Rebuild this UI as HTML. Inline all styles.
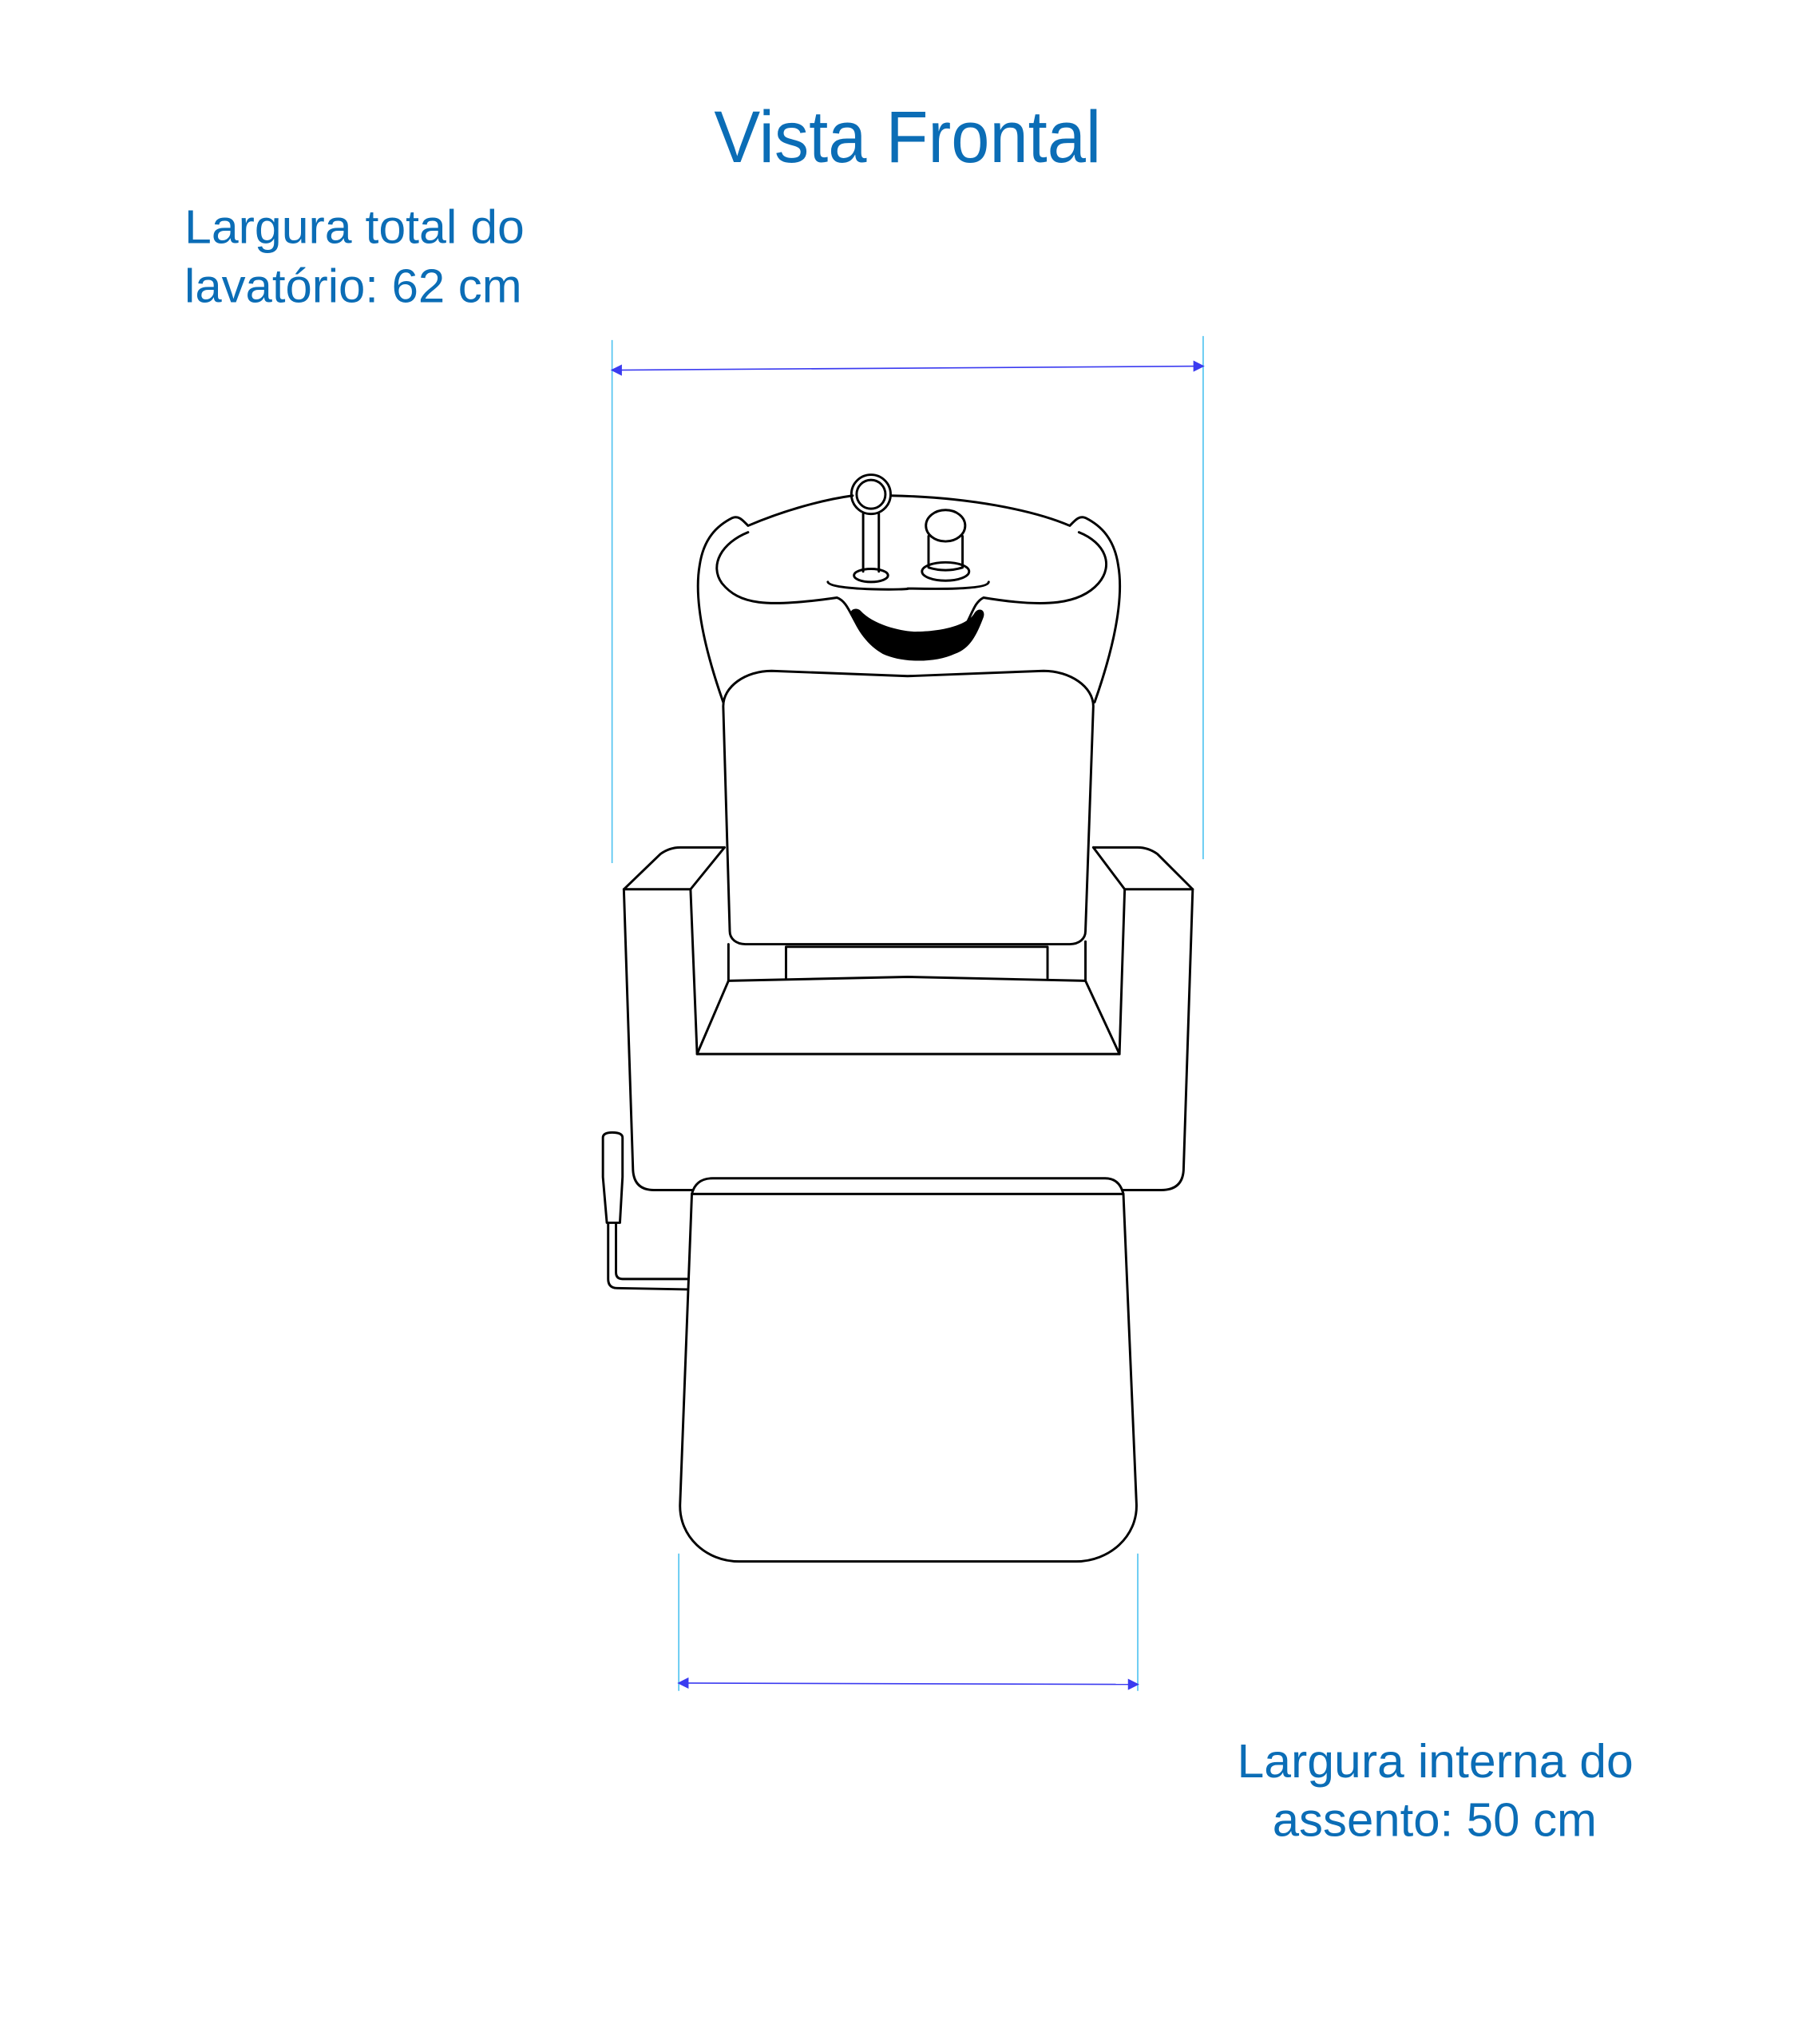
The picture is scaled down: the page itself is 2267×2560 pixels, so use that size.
<!DOCTYPE html>
<html><head><meta charset="utf-8"><style>html,body{margin:0;padding:0;background:#fff}svg{display:block}</style></head>
<body>
<svg width="2267" height="2560" viewBox="0 0 1384 1563" xmlns="http://www.w3.org/2000/svg">
<rect width="1384" height="1563" fill="#fff"/>
<g font-family="Liberation Sans, sans-serif" fill="#0b6db6">
<text x="546" y="124" font-size="56" textLength="296" lengthAdjust="spacingAndGlyphs">Vista Frontal</text>
<text x="141" y="186" font-size="36" textLength="260" lengthAdjust="spacingAndGlyphs">Largura total do</text>
<text x="141" y="231" font-size="36" textLength="258" lengthAdjust="spacingAndGlyphs">lavatório: 62 cm</text>
<text x="946" y="1359" font-size="36" textLength="303" lengthAdjust="spacingAndGlyphs">Largura interna do</text>
<text x="973" y="1404" font-size="36" textLength="248" lengthAdjust="spacingAndGlyphs">assento: 50 cm</text>
</g>
<!-- dimension lines -->
<g stroke="#4fc3f0" stroke-width="1">
<line x1="468" y1="260" x2="468" y2="660"/>
<line x1="920" y1="257" x2="920" y2="657"/>
<line x1="519" y1="1188" x2="519" y2="1293"/>
<line x1="870" y1="1188" x2="870" y2="1293"/>
</g>
<g stroke="#3b3bf0" stroke-width="1" fill="#3b3bf0">
<line x1="470" y1="283" x2="918" y2="280"/>
<polygon points="468,283 475,279.5 475,286.5"/>
<polygon points="920,280 913,276.5 913,283.5"/>
<line x1="521" y1="1287" x2="868" y2="1288"/>
<polygon points="519,1287 526,1283.5 526,1290.5"/>
<polygon points="870,1288 863,1284.5 863,1291.5"/>
</g>
<g fill="none" stroke="#000" stroke-width="1.8" stroke-linejoin="round" stroke-linecap="round">
<!-- basin outer -->
<path d="M553,537 C540,500 530,460 535,432 C538,412 548,402 560,396 C565,394 568,398 572,402 C600,390 630,382 652,379"/>
<path d="M837,537 C850,500 860,460 855,432 C852,412 842,402 830,396 C825,394 822,398 818,402 C790,390 740,380 681,379"/>
<!-- inner bowl -->
<path d="M572,407 C552,415 542,432 552,446 C565,462 585,465 640,457 C648,460 650,470 658,482"/>
<path d="M825,407 C845,415 852,432 840,446 C826,462 800,465 752,457 C746,460 744,467 740,475"/>
<path d="M633,445 C635,452 700,451 694,450 C700,450 755,452 756,445"/>
<!-- faucet -->
<circle cx="666" cy="378" r="15"/>
<circle cx="666" cy="378" r="11"/>
<path d="M660,393 L660,437 M672,393 L672,437"/>
<ellipse cx="666" cy="440" rx="13" ry="5"/>
<!-- knob -->
<ellipse cx="723" cy="402" rx="15" ry="12"/>
<path d="M710,410 L710,434 Q723,438 736,434 L736,410"/>
<ellipse cx="723" cy="437" rx="18" ry="7"/>
<!-- backrest -->
<path d="M553,540 C553,525 570,513 590,513 L694,517 L798,513 C818,513 836,525 836,540 L830,712 C830,718 825,722 818,722 L570,722 C563,722 558,718 558,712 Z"/>
<path d="M601,724 L601,748 M801,724 L801,748 M601,724 L801,724"/>
<path d="M557,722 L557,750 M830,720 L830,750"/>
<path d="M557,750 L694,747 L830,750"/>
<path d="M533,806 L856,806 M557,750 L533,806 M830,750 L856,806"/>
<!-- armrests -->
<path d="M554,648 L520,648 Q512,648 505,653 L477,680 L528,680 L554,648"/>
<path d="M528,680 L533,806 M477,680 L484,895 Q485,910 500,910 L530,910"/>
<path d="M836,648 L870,648 Q878,648 885,653 L912,680 L860,680 L836,648"/>
<path d="M860,680 L856,806 M912,680 L905,895 Q904,910 888,910 L858,910"/>
<!-- seat cushion -->
<path d="M529,913 Q532,901 545,901 L845,901 Q856,901 859,913 L529,913"/>
<path d="M529,913 L520,1150 C519,1175 540,1194 565,1194 L823,1194 C848,1194 870,1175 869,1150 L859,913"/>
<!-- lever -->
<path d="M461,870 Q461,866 468,866 Q476,866 476,870 L476,900 L474,935 L464,935 L461,900 Z"/>
<path d="M465,935 L465,978 Q465,985 472,985 L526,986"/>
<path d="M471,935 L471,973 Q471,978 476,978 L526,978"/>
</g>
<!-- black smile -->
<path d="M651,470 C649,466 655,464 658,467 C668,478 690,483 700,483 C720,483 740,478 745,469 C748,464 754,466 752,472 C747,485 742,496 730,500 C715,507 690,507 675,500 C664,494 655,482 651,470 Z" fill="#000"/>
</svg>
</body></html>
